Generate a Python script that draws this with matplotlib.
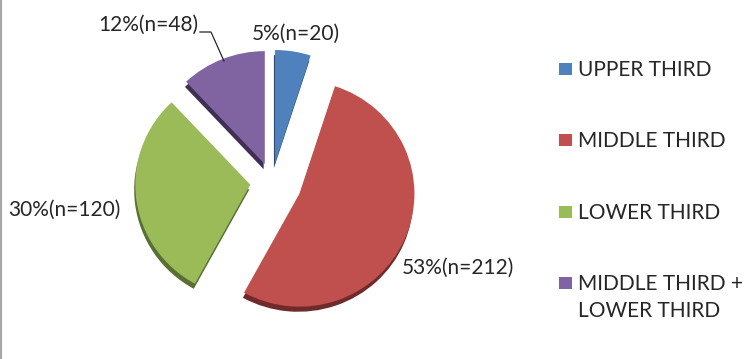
import matplotlib
matplotlib.use("Agg")
import matplotlib.pyplot as plt
from matplotlib.lines import Line2D
from matplotlib.patches import Rectangle
import numpy as np

# ---- data ----
categories = ["UPPER THIRD", "MIDDLE THIRD", "LOWER THIRD", "MIDDLE THIRD +\nLOWER THIRD"]
counts = [20, 212, 120, 48]

# ---- styles ----
colors = ["#4F81BD", "#C0504D", "#9BBB59", "#8064A2"]
dark_colors = ["#2E4D73", "#6E2B29", "#5A7033", "#3F2F55"]
explode = [0.17, 0.26, 0.19, 0.17]
FONT, FS = "Lato", 15.0

W, H = 750, 359
fig = plt.figure(figsize=(W / 100, H / 100), dpi=100)
fig.patch.set_facecolor("white")

cx, cy = 272, 182      # pie centre in image px
sx, sy = 115, 113      # px per unit
ax = fig.add_axes([0, 0, 1, 1])

# 3D side (darker copy shifted down)
ax.pie(counts, startangle=90, counterclock=False, explode=explode,
       colors=dark_colors, center=(-0.01, -0.045), radius=1.0,
       wedgeprops=dict(linewidth=0))
wedges, _ = ax.pie(counts, startangle=90, counterclock=False, explode=explode,
                   colors=colors, center=(0, 0), radius=1.0,
                   wedgeprops=dict(linewidth=0))
ax.set_aspect("auto")
ax.set_xlim(-cx / sx, (W - cx) / sx)
ax.set_ylim((cy - H) / sy, cy / sy)
ax.axis("off")

def fx(x):
    return x / W

def fy(y):
    return 1 - y / H

total = sum(counts)
labels = [f"{round(100 * c / total)}%(n={c})" for c in counts]
label_pos = [(252, 40, "left"), (402, 274, "left"), (8, 216, "left"), (198, 31, "right")]
for lab, (lx, ly, ha) in zip(labels, label_pos):
    fig.text(fx(lx), fy(ly), lab, ha=ha, va="baseline",
             fontsize=FS, family=FONT, color="#262626")

fig.add_artist(Line2D([fx(200), fx(211), fx(224)], [fy(32), fy(32), fy(61)],
                      color="#262626", lw=0.9))

leg_x_sq, leg_x_txt = 559, 578
leg_y0, leg_step, line_gap = 76, 71.3, 27
for i, (name, col) in enumerate(zip(categories, colors)):
    base = leg_y0 + i * leg_step
    fig.add_artist(Rectangle((fx(leg_x_sq), fy(base - 1)), 13 / W, 12 / H,
                             facecolor=col, edgecolor="none",
                             transform=fig.transFigure))
    for k, line in enumerate(name.split("\n")):
        fig.text(fx(leg_x_txt), fy(base + k * line_gap), line, ha="left",
                 va="baseline", fontsize=FS, family=FONT, color="#262626")

fig.add_artist(Line2D([fx(1), fx(1)], [0, 1], color="#A6A6A6", lw=1.5))

fig.savefig("out.png", dpi=100)
